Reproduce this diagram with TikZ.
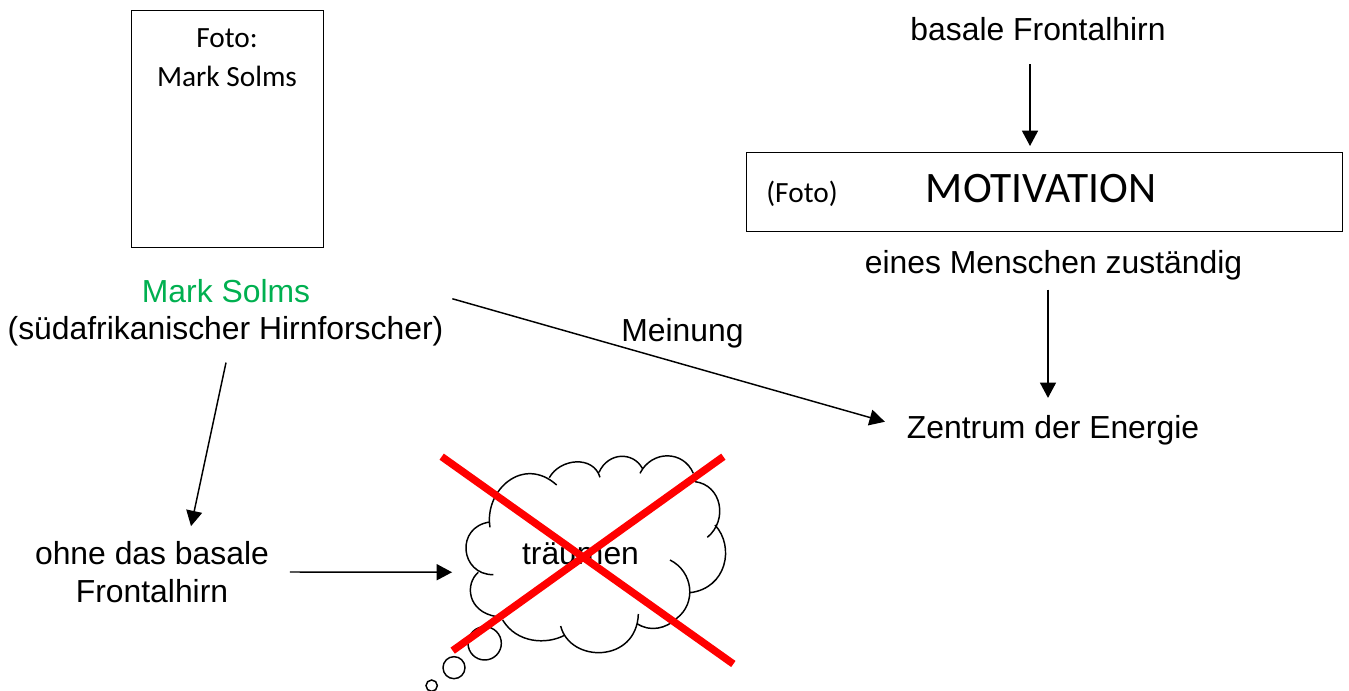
\documentclass[tikz,border=0pt]{standalone}
\usepackage{fontspec}
\setmainfont{Liberation Sans}
\newfontfamily\carlito{Carlito}
\usetikzlibrary{arrows.meta,calc}
\definecolor{solmsgreen}{HTML}{00B050}

\begin{document}
\begin{tikzpicture}[x=0.75pt, y=-0.75pt,
  every node/.style={inner sep=0pt, outer sep=0pt},
  bigtext/.style={font=\fontsize{23.9}{28}\selectfont, align=center},
  boxtext/.style={font=\carlito\fontsize{22}{29.2}\selectfont, align=center},
  framebox/.style={draw, line width=0.65pt},
  pointer/.style={-{Triangle[length=11.5pt, width=12pt]}, line width=1.1pt},
  cloudline/.style={line width=1.1pt},
  crossline/.style={red, line width=5.6pt}]
\useasboundingbox (0,0) rectangle (1349,691);

\node[framebox, minimum width=144pt, minimum height=177.75pt] (photobox) at (227,128.5) {};
\node[boxtext, anchor=north] (phototext) at (227,29) {Foto:\\Mark Solms};
\node[bigtext, text=solmsgreen, anchor=base] (solms) at (226,303) {Mark Solms};
\node[bigtext, anchor=base] (solmsrole) at (225.5,340) {(südafrikanischer Hirnforscher)};
\node[bigtext, anchor=base] (opinion) at (682.5,342) {Meinung};
\node[bigtext, anchor=center] (nofrontal) at (152,572) {ohne das basale\\Frontalhirn};

\node[bigtext, anchor=base] (frontal) at (1038,41) {basale Frontalhirn};
\node[framebox, minimum width=447pt, minimum height=59.25pt] (motivbox) at (1044,191.5) {};
\node[boxtext, anchor=base] (motivphoto) at (802,203) {(Foto)};
\node[boxtext, font=\carlito\fontsize{32.6}{36}\selectfont, anchor=base] (motivation) at (1041,203) {MOTIVATION};
\node[bigtext, anchor=base] (person) at (1053.5,273.5) {eines Menschen zuständig};
\node[bigtext, anchor=base] (energy) at (1053,438) {Zentrum der Energie};
\node[bigtext, anchor=base] (dream) at (580.5,564) {träumen};

\draw[pointer] ($(frontal.south)+(-8,23)$) -- ($(motivbox.north)+(-14,-6)$);
\draw[pointer] ($(person.south)+(-5.5,9.5)$) -- ($(energy.north)+(-5,-17)$);
\draw[pointer] ($(solmsrole.east)+(9,-33)$) -- ($(energy.west)+(-22,-8)$);
\draw[pointer] ($(solmsrole.south)+(0.5,16)$) -- ($(nofrontal.north)+(39,-15.5)$);
\draw[pointer] ($(nofrontal.east)+(21,0)$) -- ($(dream.west)+(-70,19)$);

\begin{scope}[shift={(410,440)}, x=0.25pt, y=-0.25pt]
\draw[cloudline]
  (240,262) .. controls (222,150) and (340,45) .. (440,135)
  (418,113) .. controls (450,55) and (550,45) .. (570,112)
  (567,97) .. controls (595,35) and (670,35) .. (697,85)
  (690,100) .. controls (725,30) and (820,30) .. (850,100)
  (855,125) .. controls (935,135) and (955,240) .. (892,292)
  (915,255) .. controls (975,320) and (950,445) .. (840,458)
  (780,360) .. controls (850,395) and (860,490) .. (800,535)
            .. controls (770,565) and (720,578) .. (680,550)
  (685,522) .. controls (680,670) and (480,670) .. (452,558)
  (465,585) .. controls (410,615) and (320,610) .. (278,540)
  (260,530) .. controls (170,515) and (165,430) .. (205,397)
  (250,404) .. controls (150,405) and (135,260) .. (240,246);
\foreach \cx/\cy/\rad in {224/610/50, 132/683/33, 65/737/17}
  \draw[cloudline] (\cx,\cy) circle[radius=\rad];
\draw[crossline] (95,50) -- (970,672);
\draw[crossline] (940,50) -- (128,632);
\end{scope}
\end{tikzpicture}
\end{document}
